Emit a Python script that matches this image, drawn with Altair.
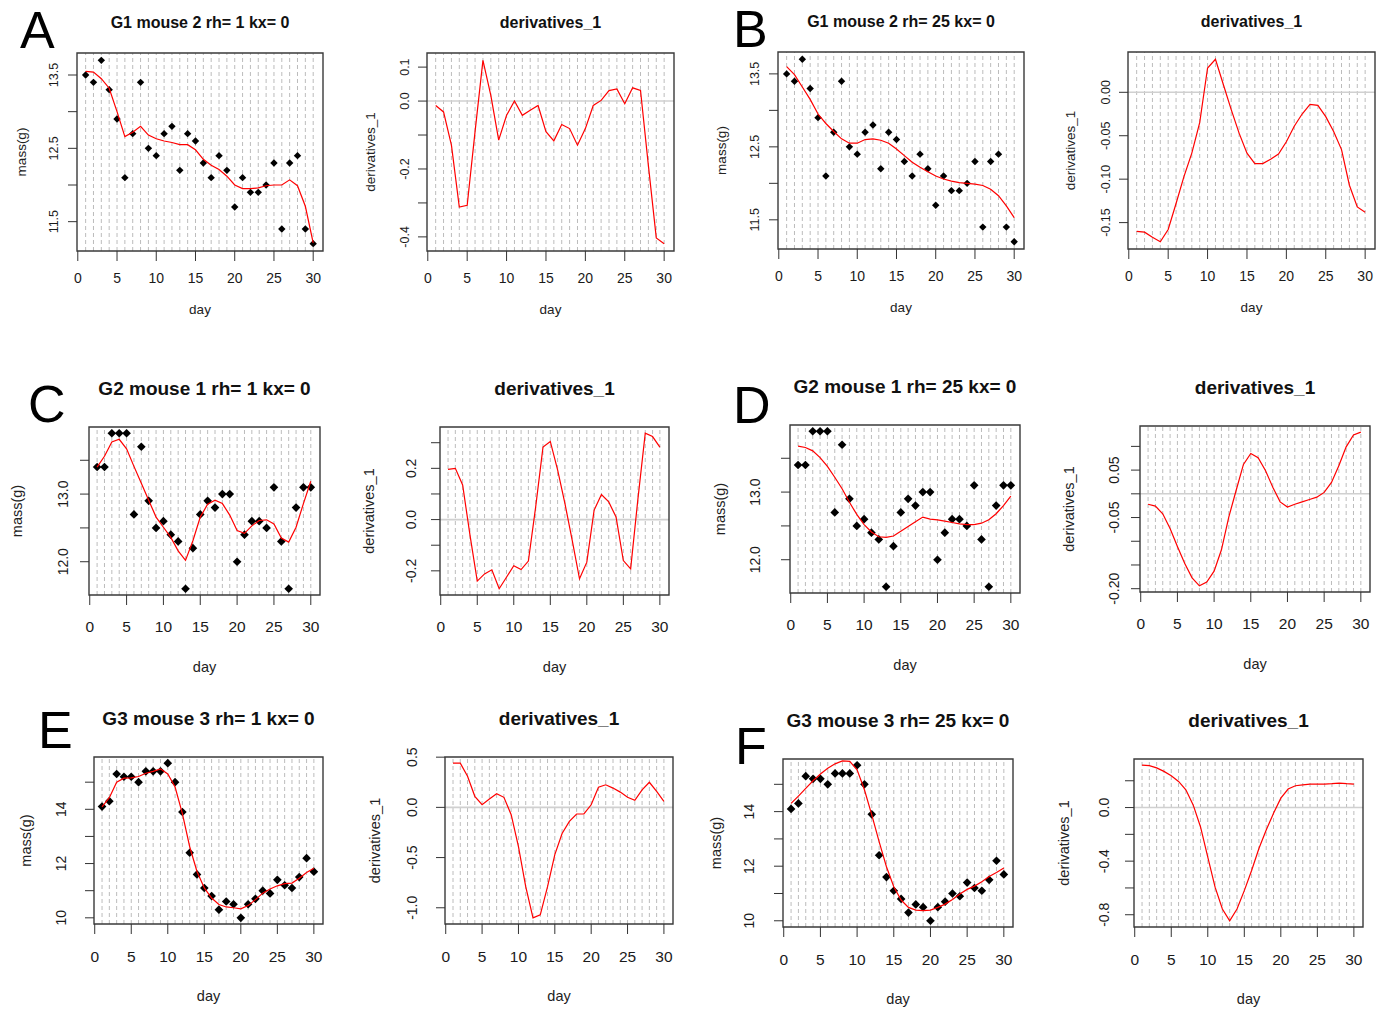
import altair as alt
import pandas as pd

# ---------------- data ----------------
days = list(range(1, 31))

# G1 mouse 2
g1_mass = [13.5, 13.4, 13.7, 13.3, 12.9, 12.1, 12.7, 13.4, 12.5, 12.4, 12.7, 12.8, 12.2, 12.7, 12.6,
           12.3, 12.1, 12.4, 12.2, 11.7, 12.1, 11.9, 11.9, 12.0, 12.3, 11.4, 12.3, 12.4, 11.4, 11.2]
g1_fit_rh1 = [13.55, 13.54, 13.45, 13.32, 13.0, 12.66, 12.72, 12.8, 12.68, 12.63, 12.6, 12.58, 12.55, 12.55, 12.48,
              12.35, 12.27, 12.21, 12.12, 12.0, 11.95, 11.95, 11.96, 11.99, 12.0, 12.0, 12.07, 11.99, 11.71, 11.21]
g1_deriv_rh1 = [-0.013, -0.032, -0.13, -0.312, -0.307, -0.09, 0.12, 0.017, -0.115, -0.042, 0.0, -0.042, -0.027, -0.013, -0.09,
                -0.117, -0.069, -0.081, -0.13, -0.081, -0.013, 0.002, 0.031, 0.036, -0.008, 0.039, 0.031, -0.19, -0.403, -0.42]
g1_fit_rh25 = [13.6, 13.49, 13.32, 13.15, 12.95, 12.82, 12.71, 12.61, 12.55, 12.55, 12.6, 12.61, 12.59, 12.55, 12.47,
               12.38, 12.29, 12.22, 12.16, 12.1, 12.06, 12.03, 12.01, 12.0, 11.99, 11.97, 11.92, 11.83, 11.69, 11.53]
g1_deriv_rh25 = [-0.16, -0.161, -0.167, -0.172, -0.158, -0.128, -0.097, -0.07, -0.035, 0.028, 0.038, 0.009, -0.02, -0.047, -0.07,
                 -0.082, -0.082, -0.077, -0.071, -0.057, -0.039, -0.025, -0.014, -0.015, -0.028, -0.045, -0.066, -0.107, -0.132, -0.138]

# G2 mouse 1
g2_mass = [13.4, 13.4, 13.9, 13.9, 13.9, 12.7, 13.7, 12.9, 12.5, 12.6, 12.4, 12.3, 11.6, 12.2, 12.7,
           12.9, 12.8, 13.0, 13.0, 12.0, 12.4, 12.6, 12.6, 12.5, 13.1, 12.3, 11.6, 12.8, 13.1, 13.1]
g2_fit_rh1 = [13.4, 13.56, 13.77, 13.81, 13.67, 13.41, 13.16, 12.91, 12.66, 12.51, 12.36, 12.16, 12.02, 12.31, 12.66,
              12.85, 12.91, 12.86, 12.69, 12.46, 12.42, 12.53, 12.61, 12.62, 12.56, 12.35, 12.29, 12.51, 12.86, 13.19]
g2_deriv_rh1 = [0.196, 0.2, 0.135, -0.06, -0.24, -0.212, -0.196, -0.27, -0.225, -0.18, -0.195, -0.162, 0.05, 0.283, 0.305,
                0.194, 0.063, -0.081, -0.231, -0.166, 0.037, 0.098, 0.069, 0.01, -0.16, -0.192, 0.082, 0.337, 0.324, 0.283]
g2_fit_rh25 = [13.68, 13.66, 13.61, 13.51, 13.38, 13.22, 13.05, 12.85, 12.67, 12.52, 12.41, 12.34, 12.33, 12.35, 12.42,
               12.49, 12.56, 12.63, 12.6, 12.59, 12.57, 12.55, 12.53, 12.52, 12.52, 12.54, 12.59, 12.68, 12.8, 12.94]
g2_deriv_rh25 = [-0.022, -0.026, -0.042, -0.073, -0.111, -0.147, -0.177, -0.194, -0.186, -0.163, -0.118, -0.049, 0.007, 0.062, 0.085,
                 0.076, 0.049, 0.014, -0.017, -0.028, -0.022, -0.017, -0.012, -0.007, 0.003, 0.024, 0.059, 0.099, 0.124, 0.13]

# G3 mouse 3
g3_mass = [14.1, 14.3, 15.3, 15.2, 15.2, 15.0, 15.4, 15.4, 15.4, 15.7, 15.0, 13.9, 12.4, 11.6, 11.1,
           10.8, 10.3, 10.6, 10.5, 10.0, 10.5, 10.7, 11.0, 10.9, 11.4, 11.2, 11.1, 11.5, 12.2, 11.7]
g3_fit_rh1 = [14.09, 14.43, 15.0, 15.15, 15.16, 15.21, 15.33, 15.4, 15.49, 15.3, 14.82, 13.84, 12.62, 11.71, 11.1,
              10.73, 10.49, 10.4, 10.37, 10.33, 10.45, 10.67, 10.91, 11.06, 11.18, 11.26, 11.28, 11.46, 11.67, 11.83]
g3_deriv_rh1 = [0.44, 0.44, 0.31, 0.11, 0.026, 0.083, 0.136, 0.1, -0.073, -0.39, -0.79, -1.1, -1.07, -0.79, -0.47,
                -0.26, -0.14, -0.066, -0.066, 0.026, 0.2, 0.225, 0.192, 0.152, 0.1, 0.07, 0.175, 0.25, 0.16, 0.06]
g3_fit_rh25 = [14.3, 14.57, 14.85, 15.13, 15.38, 15.59, 15.75, 15.86, 15.84, 15.53, 14.8, 13.88, 12.9, 11.98, 11.25,
               10.76, 10.49, 10.39, 10.37, 10.39, 10.49, 10.61, 10.78, 10.98, 11.15, 11.27, 11.43, 11.62, 11.77, 11.93]
g3_deriv_rh25 = [0.316, 0.313, 0.296, 0.27, 0.238, 0.195, 0.133, 0.02, -0.143, -0.37, -0.594, -0.757, -0.845, -0.757, -0.62,
                 -0.47, -0.306, -0.168, -0.043, 0.07, 0.138, 0.163, 0.17, 0.175, 0.175, 0.175, 0.178, 0.183, 0.178, 0.175]

x_ticks = [0, 5, 10, 15, 20, 25, 30]

# ---------------- layout ----------------
W, H = 1387, 1018
X_DOMAIN = [-0.1, 31.25]
FONT = "Liberation Sans"

STYLE = {
    0: dict(title_fs=16, xlab_fs=14, ylab_fs=12.5, axt_fs=13.5, pt=55, xtick=10, xlab_top=21, ytick=9,
            title_off=25.5, day_off=59),
    1: dict(title_fs=19, xlab_fs=15.5, ylab_fs=14, axt_fs=14.5, pt=75, xtick=10, xlab_top=25, ytick=9,
            title_off=32, day_off=73),
    2: dict(title_fs=19, xlab_fs=15.5, ylab_fs=14, axt_fs=14.5, pt=75, xtick=10, xlab_top=26, ytick=9,
            title_off=32, day_off=73),
}

panels = [
    dict(letter="A", lpos=(20, 48), title="G1 mouse 2 rh= 1 kx= 0", pts=g1_mass, line=g1_fit_rh1,
         ticks=[11.5, 12.0, 12.5, 13.0, 13.5], labels=[11.5, 12.5, 13.5], fmt="{:.1f}",
         box=(77, 323, 53, 251), row=0, ylab_off=24, ytitle_off=55),
    dict(letter=None, title="derivatives_1", pts=None, line=g1_deriv_rh1,
         ticks=[-0.4, -0.3, -0.2, -0.1, 0.0, 0.1], labels=[-0.4, -0.2, 0.0, 0.1], fmt="{:.1f}",
         box=(427, 674, 53, 251), row=0, ylab_off=23, ytitle_off=56),
    dict(letter="B", lpos=(733, 47), title="G1 mouse 2 rh= 25 kx= 0", pts=g1_mass, line=g1_fit_rh25,
         ticks=[11.5, 12.0, 12.5, 13.0, 13.5], labels=[11.5, 12.5, 13.5], fmt="{:.1f}",
         box=(778, 1024, 52, 249), row=0, ylab_off=23.5, ytitle_off=56),
    dict(letter=None, title="derivatives_1", pts=None, line=g1_deriv_rh25,
         ticks=[-0.15, -0.1, -0.05, 0.0], labels=[-0.15, -0.1, -0.05, 0.0], fmt="{:.2f}",
         box=(1128, 1375, 52, 249), row=0, ylab_off=23, ytitle_off=57),
    dict(letter="C", lpos=(28, 422), title="G2 mouse 1 rh= 1 kx= 0", pts=g2_mass, line=g2_fit_rh1,
         ticks=[12.0, 12.5, 13.0, 13.5], labels=[12.0, 13.0], fmt="{:.1f}",
         box=(89, 320, 427, 595), row=1, ylab_off=26, ytitle_off=71),
    dict(letter=None, title="derivatives_1", pts=None, line=g2_deriv_rh1,
         ticks=[-0.2, -0.1, 0.0, 0.1, 0.2, 0.3], labels=[-0.2, 0.0, 0.2], fmt="{:.1f}",
         box=(440, 669, 427, 595), row=1, ylab_off=29, ytitle_off=70),
    dict(letter="D", lpos=(733, 423), title="G2 mouse 1 rh= 25 kx= 0", pts=g2_mass, line=g2_fit_rh25,
         ticks=[12.0, 12.5, 13.0, 13.5], labels=[12.0, 13.0], fmt="{:.1f}",
         box=(790, 1020, 425, 593), row=1, ylab_off=35, ytitle_off=69),
    dict(letter=None, title="derivatives_1", pts=None, line=g2_deriv_rh25,
         ticks=[-0.2, -0.15, -0.1, -0.05, 0.0, 0.05, 0.1], labels=[-0.2, -0.05, 0.05], fmt="{:.2f}",
         box=(1140, 1370, 426, 592), row=1, ylab_off=26, ytitle_off=70),
    dict(letter="E", lpos=(38, 748), title="G3 mouse 3 rh= 1 kx= 0", pts=g3_mass, line=g3_fit_rh1,
         ticks=[10, 11, 12, 13, 14, 15], labels=[10, 12, 14], fmt="{:.0f}",
         box=(94, 323, 757, 924), row=2, ylab_off=33, ytitle_off=67),
    dict(letter=None, title="derivatives_1", pts=None, line=g3_deriv_rh1,
         ticks=[-1.0, -0.5, 0.0, 0.5], labels=[-1.0, -0.5, 0.0, 0.5], fmt="{:.1f}",
         box=(445, 673, 757, 924), row=2, ylab_off=32.5, ytitle_off=69),
    dict(letter="F", lpos=(735, 764), title="G3 mouse 3 rh= 25 kx= 0", pts=g3_mass, line=g3_fit_rh25,
         ticks=[10, 11, 12, 13, 14, 15], labels=[10, 12, 14], fmt="{:.0f}",
         box=(783, 1013, 759, 927), row=2, ylab_off=34, ytitle_off=66),
    dict(letter=None, title="derivatives_1", pts=None, line=g3_deriv_rh25,
         ticks=[-0.8, -0.6, -0.4, -0.2, 0.0, 0.2], labels=[-0.8, -0.4, 0.0], fmt="{:.1f}",
         box=(1134, 1363, 759, 927), row=2, ylab_off=30, ytitle_off=69),
]

TICK_COLOR = "#333333"
LABEL_COLOR = "#1a1a1a"


def pad_domain(vals):
    lo, hi = min(vals), max(vals)
    r = hi - lo
    return [lo - 0.04 * r, hi + 0.04 * r]


def fmt_label(fmt, v):
    s = fmt.format(abs(v))
    return ("-" + s) if v < 0 else s


def panel_chart(p):
    L, R, T, B = p["box"]
    st = STYLE[p["row"]]
    yvals = p["pts"] if p["pts"] is not None else p["line"]
    ydom = pad_domain(yvals)
    xs = alt.Scale(domain=X_DOMAIN, range=[L, R], nice=False, zero=False)
    ys = alt.Scale(domain=ydom, range=[B, T], nice=False, zero=False)

    frame = pd.DataFrame({"x0": [X_DOMAIN[0]], "x1": [X_DOMAIN[1]],
                          "y0": [ydom[0]], "y1": [ydom[1]], "z": [0.0]})
    grid_df = pd.DataFrame({"day": days, "y0": ydom[0], "y1": ydom[1]})
    series = pd.DataFrame({"day": days, "v": p["line"]})
    xt_df = pd.DataFrame({"t": x_ticks, "lab": [str(t) for t in x_ticks]})
    yt_df = pd.DataFrame({"t": p["ticks"]})
    yl_df = pd.DataFrame({"t": p["labels"], "lab": [fmt_label(p["fmt"], v) for v in p["labels"]]})

    X = lambda f: alt.X(f, scale=xs, axis=None, title=None)
    Y = lambda f: alt.Y(f, scale=ys, axis=None, title=None)

    layers = [
        alt.Chart(grid_df).mark_rule(color="#bcbcbc", strokeDash=[4, 3], strokeWidth=1).encode(
            x=X("day:Q"), y=Y("y0:Q"), y2="y1:Q")
    ]
    if p["pts"] is None:
        layers.append(alt.Chart(frame).mark_rule(color="#d0d0d0", strokeWidth=1.6).encode(
            x=X("x0:Q"), x2="x1:Q", y=Y("z:Q")))
    else:
        pts_df = pd.DataFrame({"day": days, "m": p["pts"]})
        layers.append(alt.Chart(pts_df).mark_point(shape="diamond", filled=True, color="black",
                                                   opacity=1, size=st["pt"]).encode(
            x=X("day:Q"), y=Y("m:Q")))
    layers.append(alt.Chart(series).mark_line(color="#ff0000", strokeWidth=1.2).encode(
        x=X("day:Q"), y=Y("v:Q")))
    layers.append(alt.Chart(frame).mark_rect(fillOpacity=0, stroke="#3a3a3a", strokeWidth=1.4).encode(
        x=X("x0:Q"), x2="x1:Q", y=Y("y0:Q"), y2="y1:Q"))

    # x axis: ticks and labels
    layers.append(alt.Chart(xt_df).mark_rule(color=TICK_COLOR, strokeWidth=1).encode(
        x=X("t:Q"), y=alt.value(B), y2=alt.value(B + st["xtick"])))
    layers.append(alt.Chart(xt_df).mark_text(font=FONT, fontSize=st["xlab_fs"], color=LABEL_COLOR,
                                             align="center", baseline="top").encode(
        x=X("t:Q"), y=alt.value(B + st["xlab_top"]), text="lab:N"))
    # y axis: ticks and labels (rotated, R style)
    layers.append(alt.Chart(yt_df).mark_rule(color=TICK_COLOR, strokeWidth=1).encode(
        y=Y("t:Q"), x=alt.value(L - st["ytick"]), x2=alt.value(L)))
    layers.append(alt.Chart(yl_df).mark_text(font=FONT, fontSize=st["ylab_fs"], color=LABEL_COLOR,
                                             align="center", baseline="middle", angle=270).encode(
        y=Y("t:Q"), x=alt.value(L - p["ylab_off"] + 0.7), text="lab:N"))
    return alt.layer(*layers)


# ---------------- text elements ----------------
title_rows, xt_rows, yt_rows, letter_rows = [], [], [], []
for p in panels:
    L, R, T, B = p["box"]
    st = STYLE[p["row"]]
    cx = (L + R) / 2
    title_rows.append(dict(px=cx, py=T - st["title_off"], text=p["title"], fs=st["title_fs"]))
    xt_rows.append(dict(px=cx, py=B + st["day_off"], text="day", fs=st["axt_fs"]))
    yt_rows.append(dict(px=L - p["ytitle_off"], py=(T + B) / 2,
                        text="mass(g)" if p["pts"] is not None else "derivatives_1", fs=st["axt_fs"]))
    if p["letter"]:
        letter_rows.append(dict(px=p["lpos"][0], py=p["lpos"][1], text=p["letter"], fs=52))


def text_layer(rows, **mark_kw):
    return alt.Chart(pd.DataFrame(rows)).mark_text(font=FONT, **mark_kw).encode(
        x=alt.X("px:Q", scale=None, axis=None),
        y=alt.Y("py:Q", scale=None, axis=None),
        text="text:N",
        size=alt.Size("fs:Q", scale=None, legend=None))


texts = [
    text_layer(title_rows, fontWeight="bold", align="center", baseline="alphabetic", color="#111111"),
    text_layer(xt_rows, align="center", baseline="middle", color="#222222"),
    text_layer(yt_rows, align="center", baseline="middle", angle=270, color="#222222"),
    text_layer(letter_rows, align="left", baseline="alphabetic", color="#000000"),
]

chart = alt.layer(*[panel_chart(p) for p in panels], *texts).resolve_scale(
    x="independent", y="independent"
).properties(
    width=W, height=H, autosize=alt.AutoSizeParams(type="none"), padding=0, background="white"
).configure_view(strokeWidth=0)

chart.save("out.html", embed_options={"renderer": "svg", "actions": False})
